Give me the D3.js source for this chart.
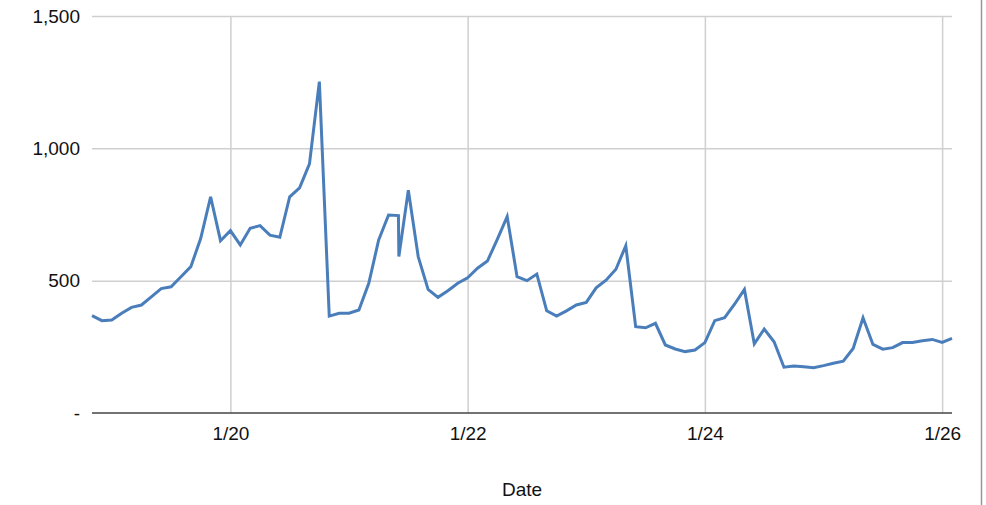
<!DOCTYPE html>
<html>
<head>
<meta charset="utf-8">
<script src="https://cdn.jsdelivr.net/npm/d3@7"></script>
<style>
html, body { margin: 0; padding: 0; background: #fff; }
svg { display: block; font-family: "Liberation Sans", Arial, sans-serif; }
</style>
</head>
<body>
<svg id="chart" width="986" height="505"></svg>
<script>
const times = [
  "2020-01-18T20:00","2020-01-18T22:00",
  "2020-01-19T00:00","2020-01-19T02:00","2020-01-19T04:00","2020-01-19T06:00","2020-01-19T08:00","2020-01-19T10:00",
  "2020-01-19T12:00","2020-01-19T14:00","2020-01-19T16:00","2020-01-19T18:00","2020-01-19T20:00","2020-01-19T22:00",
  "2020-01-20T00:00","2020-01-20T02:00","2020-01-20T04:00","2020-01-20T06:00","2020-01-20T08:00","2020-01-20T10:00",
  "2020-01-20T12:00","2020-01-20T14:00","2020-01-20T16:00","2020-01-20T18:00","2020-01-20T20:00","2020-01-20T22:00",
  "2020-01-21T00:00","2020-01-21T02:00","2020-01-21T04:00","2020-01-21T06:00","2020-01-21T08:00","2020-01-21T10:00",
  "2020-01-21T10:05",
  "2020-01-21T12:00","2020-01-21T14:00","2020-01-21T16:00","2020-01-21T18:00","2020-01-21T20:00","2020-01-21T22:00",
  "2020-01-22T00:00","2020-01-22T02:00","2020-01-22T04:00","2020-01-22T06:00","2020-01-22T08:00","2020-01-22T10:00",
  "2020-01-22T12:00","2020-01-22T14:00","2020-01-22T16:00","2020-01-22T18:00","2020-01-22T20:00","2020-01-22T22:00",
  "2020-01-23T00:00","2020-01-23T02:00","2020-01-23T04:00","2020-01-23T06:00","2020-01-23T08:00","2020-01-23T10:00",
  "2020-01-23T12:00","2020-01-23T14:00","2020-01-23T16:00","2020-01-23T18:00","2020-01-23T20:00","2020-01-23T22:00",
  "2020-01-24T00:00","2020-01-24T02:00","2020-01-24T04:00","2020-01-24T06:00","2020-01-24T08:00","2020-01-24T10:00",
  "2020-01-24T12:00","2020-01-24T14:00","2020-01-24T16:00","2020-01-24T18:00","2020-01-24T20:00","2020-01-24T22:00",
  "2020-01-25T00:00","2020-01-25T02:00","2020-01-25T04:00","2020-01-25T06:00","2020-01-25T08:00","2020-01-25T10:00",
  "2020-01-25T12:00","2020-01-25T14:00","2020-01-25T16:00","2020-01-25T18:00","2020-01-25T20:00","2020-01-25T22:00",
  "2020-01-26T00:00","2020-01-26T02:00"
];
const values = [
  368, 349,
  351, 377, 399, 408, 439, 470,
  477, 515, 553, 660, 817, 651,
  689, 635, 698, 708, 672, 664,
  817, 851, 941, 1252, 366, 377,
  377, 389, 490, 654, 748, 746,
  591,
  842, 591, 467, 437, 462, 490,
  511, 547, 574, 656, 742, 515,
  500, 525, 386, 366, 386, 408,
  418, 473, 502, 543, 632, 326,
  322, 339, 257, 242, 232, 238,
  266, 349, 360, 411, 467, 261,
  317, 269, 173, 178, 175, 171,
  179, 188, 196, 244, 360, 259,
  241, 247, 266, 266, 273, 278,
  267, 282
];
const xTickDates = ["2020-01-20T00:00","2020-01-22T00:00","2020-01-24T00:00","2020-01-26T00:00"];
const yTicks = [0, 500, 1000, 1500];
const xTitle = "Date";

(function () {
const parse = d3.utcParse("%Y-%m-%dT%H:%M");
const data = times.map((t, i) => ({ t: parse(t), v: values[i] }));

const svg = d3.select("#chart");
const mLeft = 92, mRight = 952, mTop = 16, mBottom = 413;

const x = d3.scaleUtc().domain(d3.extent(data, d => d.t)).range([mLeft, mRight]);
const y = d3.scaleLinear().domain([0, 1500]).range([mBottom, mTop]);

const fmtX = d3.utcFormat("%-m/%-d");
const fmtY = v => v === 0 ? "-" : d3.format(",")(v);

// horizontal gridlines
svg.append("g")
  .attr("transform", `translate(${mLeft},0)`)
  .call(d3.axisLeft(y).tickValues(yTicks.filter(v => v > 0)).tickSize(-(mRight - mLeft)).tickFormat(""))
  .call(g => g.select(".domain").remove())
  .call(g => g.selectAll("line").attr("stroke", "#cfcfcf").attr("stroke-width", 1.5));

// vertical gridlines
const xTickVals = xTickDates.map(parse);
svg.append("g")
  .attr("transform", `translate(0,${mBottom})`)
  .call(d3.axisBottom(x).tickValues(xTickVals).tickSize(-(mBottom - mTop)).tickFormat(""))
  .call(g => g.select(".domain").remove())
  .call(g => g.selectAll("line").attr("stroke", "#cfcfcf").attr("stroke-width", 1.5));

// y labels
svg.append("g")
  .attr("transform", `translate(${mLeft},0)`)
  .call(d3.axisLeft(y).tickValues(yTicks).tickSize(0).tickPadding(12).tickFormat(fmtY))
  .call(g => g.select(".domain").remove())
  .call(g => g.selectAll("text").attr("font-size", 19).attr("fill", "#111")
    .attr("font-family", "Liberation Sans, Arial, sans-serif"));

// x labels
svg.append("g")
  .attr("transform", `translate(0,${mBottom})`)
  .call(d3.axisBottom(x).tickValues(xTickVals).tickSize(0).tickPadding(14).tickFormat(fmtX))
  .call(g => g.select(".domain").remove())
  .call(g => g.selectAll("text").attr("font-size", 19).attr("fill", "#111")
    .attr("font-family", "Liberation Sans, Arial, sans-serif"));

// baseline
svg.append("line")
  .attr("x1", mLeft).attr("x2", mRight)
  .attr("y1", y(0)).attr("y2", y(0))
  .attr("stroke", "#444").attr("stroke-width", 1.5);

// line
const line = d3.line().x(d => x(d.t)).y(d => y(d.v));
svg.append("path")
  .datum(data)
  .attr("d", line)
  .attr("fill", "none")
  .attr("stroke", "#4a7ebb")
  .attr("stroke-width", 3)
  .attr("stroke-linejoin", "miter");

// x title
svg.append("text")
  .attr("x", (mLeft + mRight) / 2)
  .attr("y", 496)
  .attr("text-anchor", "middle")
  .attr("font-size", 19)
  .attr("fill", "#111")
  .text(xTitle);

// right frame edge
svg.append("line")
  .attr("x1", 981.5).attr("x2", 981.5)
  .attr("y1", 0).attr("y2", 505)
  .attr("stroke", "#999").attr("stroke-width", 1.5);
})();
</script>
</body>
</html>
